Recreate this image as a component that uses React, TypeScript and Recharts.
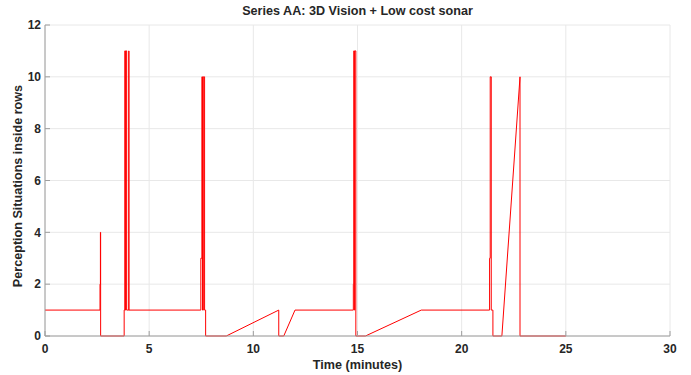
import React from "react";
import { LineChart, Line, XAxis, YAxis, CartesianGrid } from "recharts";

// Perception situation count sampled over the run (minutes → situation code)
const times = [
  0, 2.64, 2.64, 2.66, 2.66, 2.67, 2.67,
  3.8, 3.8, 3.83, 3.83, 3.86, 3.86, 3.88, 3.88, 3.92, 3.92, 4.02, 4.02, 4.03, 4.03,
  7.48, 7.48, 7.53, 7.53, 7.56, 7.56, 7.6, 7.6, 7.66, 7.66, 7.71, 7.71,
  8.7, 11.22, 11.22, 11.46, 12.0,
  14.8, 14.8, 14.82, 14.82, 14.85, 14.85, 14.87, 14.87, 14.92, 14.92,
  15.38, 18.06,
  21.34, 21.34, 21.37, 21.37, 21.42, 21.42, 21.5, 21.5,
  21.93, 22.8, 22.8, 25,
];
const values = [
  1, 1, 2, 2, 4, 4, 0,
  0, 1, 1, 11, 11, 1, 1, 11, 11, 1, 1, 11, 11, 1,
  1, 3, 3, 10, 10, 1, 1, 10, 10, 1, 1, 0,
  0, 1, 0, 0, 1,
  1, 2, 2, 11, 11, 1, 1, 11, 11, 0,
  0, 1,
  1, 3, 3, 10, 10, 1, 1, 0,
  0, 10, 0, 0,
];

const xTicks = [0, 5, 10, 15, 20, 25, 30];
const yTicks = [0, 2, 4, 6, 8, 10, 12];

const data = times.map((t, i) => ({ t, v: values[i] }));

const FONT = "'Liberation Sans', Arial, Helvetica, sans-serif";
const AXIS = "#9e9e9e";
const TEXT = "#262626";
const LABEL_SIZE = 12.6;

const XTick = (props: any) => {
  const { x, y, payload } = props;
  return (
    <g>
      <line x1={x} x2={x} y1={y} y2={y - 5} stroke={AXIS} strokeWidth={1} />
      <text
        x={x}
        y={y + 8}
        dy="0.71em"
        textAnchor="middle"
        fill={TEXT}
        fontFamily={FONT}
        fontWeight="bold"
        fontSize={12}
      >
        {payload.value}
      </text>
    </g>
  );
};

const YTick = (props: any) => {
  const { x, y, payload } = props;
  return (
    <g>
      <line x1={x} x2={x + 5} y1={y} y2={y} stroke={AXIS} strokeWidth={1} />
      <text
        x={x - 4}
        y={y}
        dy="0.355em"
        textAnchor="end"
        fill={TEXT}
        fontFamily={FONT}
        fontWeight="bold"
        fontSize={12}
      >
        {payload.value}
      </text>
    </g>
  );
};

export default function App() {
  return (
    <div
      style={{
        position: "fixed",
        left: 0,
        top: 0,
        width: 691,
        height: 375,
        background: "#ffffff",
        fontFamily: FONT,
      }}
    >
      <div
        style={{
          position: "absolute",
          left: 0,
          width: 715,
          top: 4,
          textAlign: "center",
          fontSize: LABEL_SIZE,
          fontWeight: "bold",
          color: TEXT,
          lineHeight: "14px",
        }}
      >
        Series AA: 3D Vision + Low cost sonar
      </div>
      <div
        style={{
          position: "absolute",
          left: 0,
          width: 715,
          top: 358,
          textAlign: "center",
          fontSize: LABEL_SIZE,
          fontWeight: "bold",
          color: TEXT,
          lineHeight: "14px",
        }}
      >
        Time (minutes)
      </div>
      <div
        style={{
          position: "absolute",
          left: 18,
          top: 186,
          transform: "translate(-50%, -50%) rotate(-90deg)",
          whiteSpace: "nowrap",
          fontSize: LABEL_SIZE,
          fontWeight: "bold",
          color: TEXT,
          lineHeight: "14px",
        }}
      >
        Perception Situations inside rows
      </div>
      <LineChart
        width={691}
        height={375}
        data={data}
        margin={{ top: 25, right: 21, bottom: 0, left: 0 }}
        style={{ position: "absolute", left: 0, top: 0 }}
      >
        <CartesianGrid stroke="#e8e8e8" strokeWidth={1} />
        <XAxis
          dataKey="t"
          type="number"
          domain={[0, 30]}
          ticks={xTicks}
          interval={0}
          height={39}
          tickSize={0}
          tickMargin={0}
          tickLine={false}
          axisLine={{ stroke: AXIS }}
          tick={<XTick />}
        />
        <XAxis
          xAxisId="top"
          orientation="top"
          dataKey="t"
          type="number"
          domain={[0, 30]}
          height={0}
          tick={false}
          tickLine={false}
          axisLine={{ stroke: AXIS }}
        />
        <YAxis
          type="number"
          domain={[0, 12]}
          ticks={yTicks}
          interval={0}
          width={45}
          tickSize={0}
          tickMargin={0}
          tickLine={false}
          axisLine={{ stroke: AXIS }}
          tick={<YTick />}
        />
        <YAxis
          yAxisId="right"
          orientation="right"
          type="number"
          domain={[0, 12]}
          width={0}
          tick={false}
          tickLine={false}
          axisLine={{ stroke: AXIS }}
        />
        <Line
          type="linear"
          dataKey="v"
          stroke="#ff0000"
          strokeWidth={1}
          dot={false}
          activeDot={false}
          isAnimationActive={false}
        />
      </LineChart>
    </div>
  );
}
